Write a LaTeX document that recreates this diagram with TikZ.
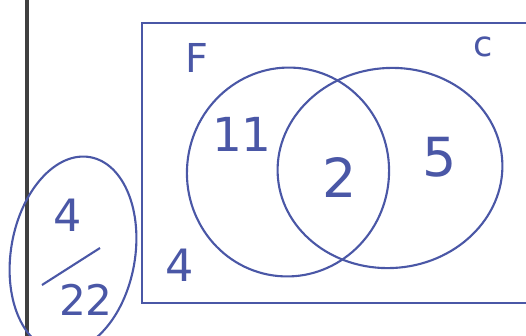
\documentclass[tikz,border=0pt]{standalone}
\usepackage{fontspec}
\setsansfont{DejaVu Sans}
\usetikzlibrary{shapes.geometric}
\definecolor{pen}{HTML}{4A57A6}

\begin{document}
\begin{tikzpicture}[
  x=0.03cm, y=-0.03cm,
  set/.style={draw=pen, line width=1.8pt, ellipse, inner sep=0pt,
              minimum width=#1},
  num/.style={text=pen, font=\sffamily\fontsize{#1}{#1}\selectfont, inner sep=0pt},
]
\useasboundingbox (0,0) rectangle (526,336);
\clip (0,0) rectangle (526,336);

% margin line
\draw[black!75, line width=3.2pt] (27,-5) -- (27,345);

% universal set
\draw[pen, line width=2pt] (142,23) rectangle (540,303);

% sets F and C
\node[set=6.06cm, minimum height=6.27cm, rotate=-8] (setF) at (288,172) {};
\node[set=6.75cm, minimum height=6cm, rotate=5] (setC) at (390,168) {};
\node[num=34pt] (lblF) at (197,58) {F};
\node[num=30pt] (lblC) at (483,47) {c};

% region counts
\node[num=40pt] (onlyF) at (242,134) {11};
\node[num=46pt] (both) at (340,177) {2};
\node[num=46pt] (onlyC) at (440,157) {5};
\node[num=38pt] (neither) at (180,265) {4};

% answer, circled
\node[set=3.72cm, minimum height=5.9cm, rotate=-10] (answer) at (73,254) {};
\node[num=38pt] (numer) at (68,215) {4};
\coordinate (barL) at (42,285);
\coordinate (barR) at (100,248);
\draw[pen, line width=1.8pt] (barL) -- (barR);
\node[num=36pt] (denom) at (86,300) {22};
\end{tikzpicture}
\end{document}
